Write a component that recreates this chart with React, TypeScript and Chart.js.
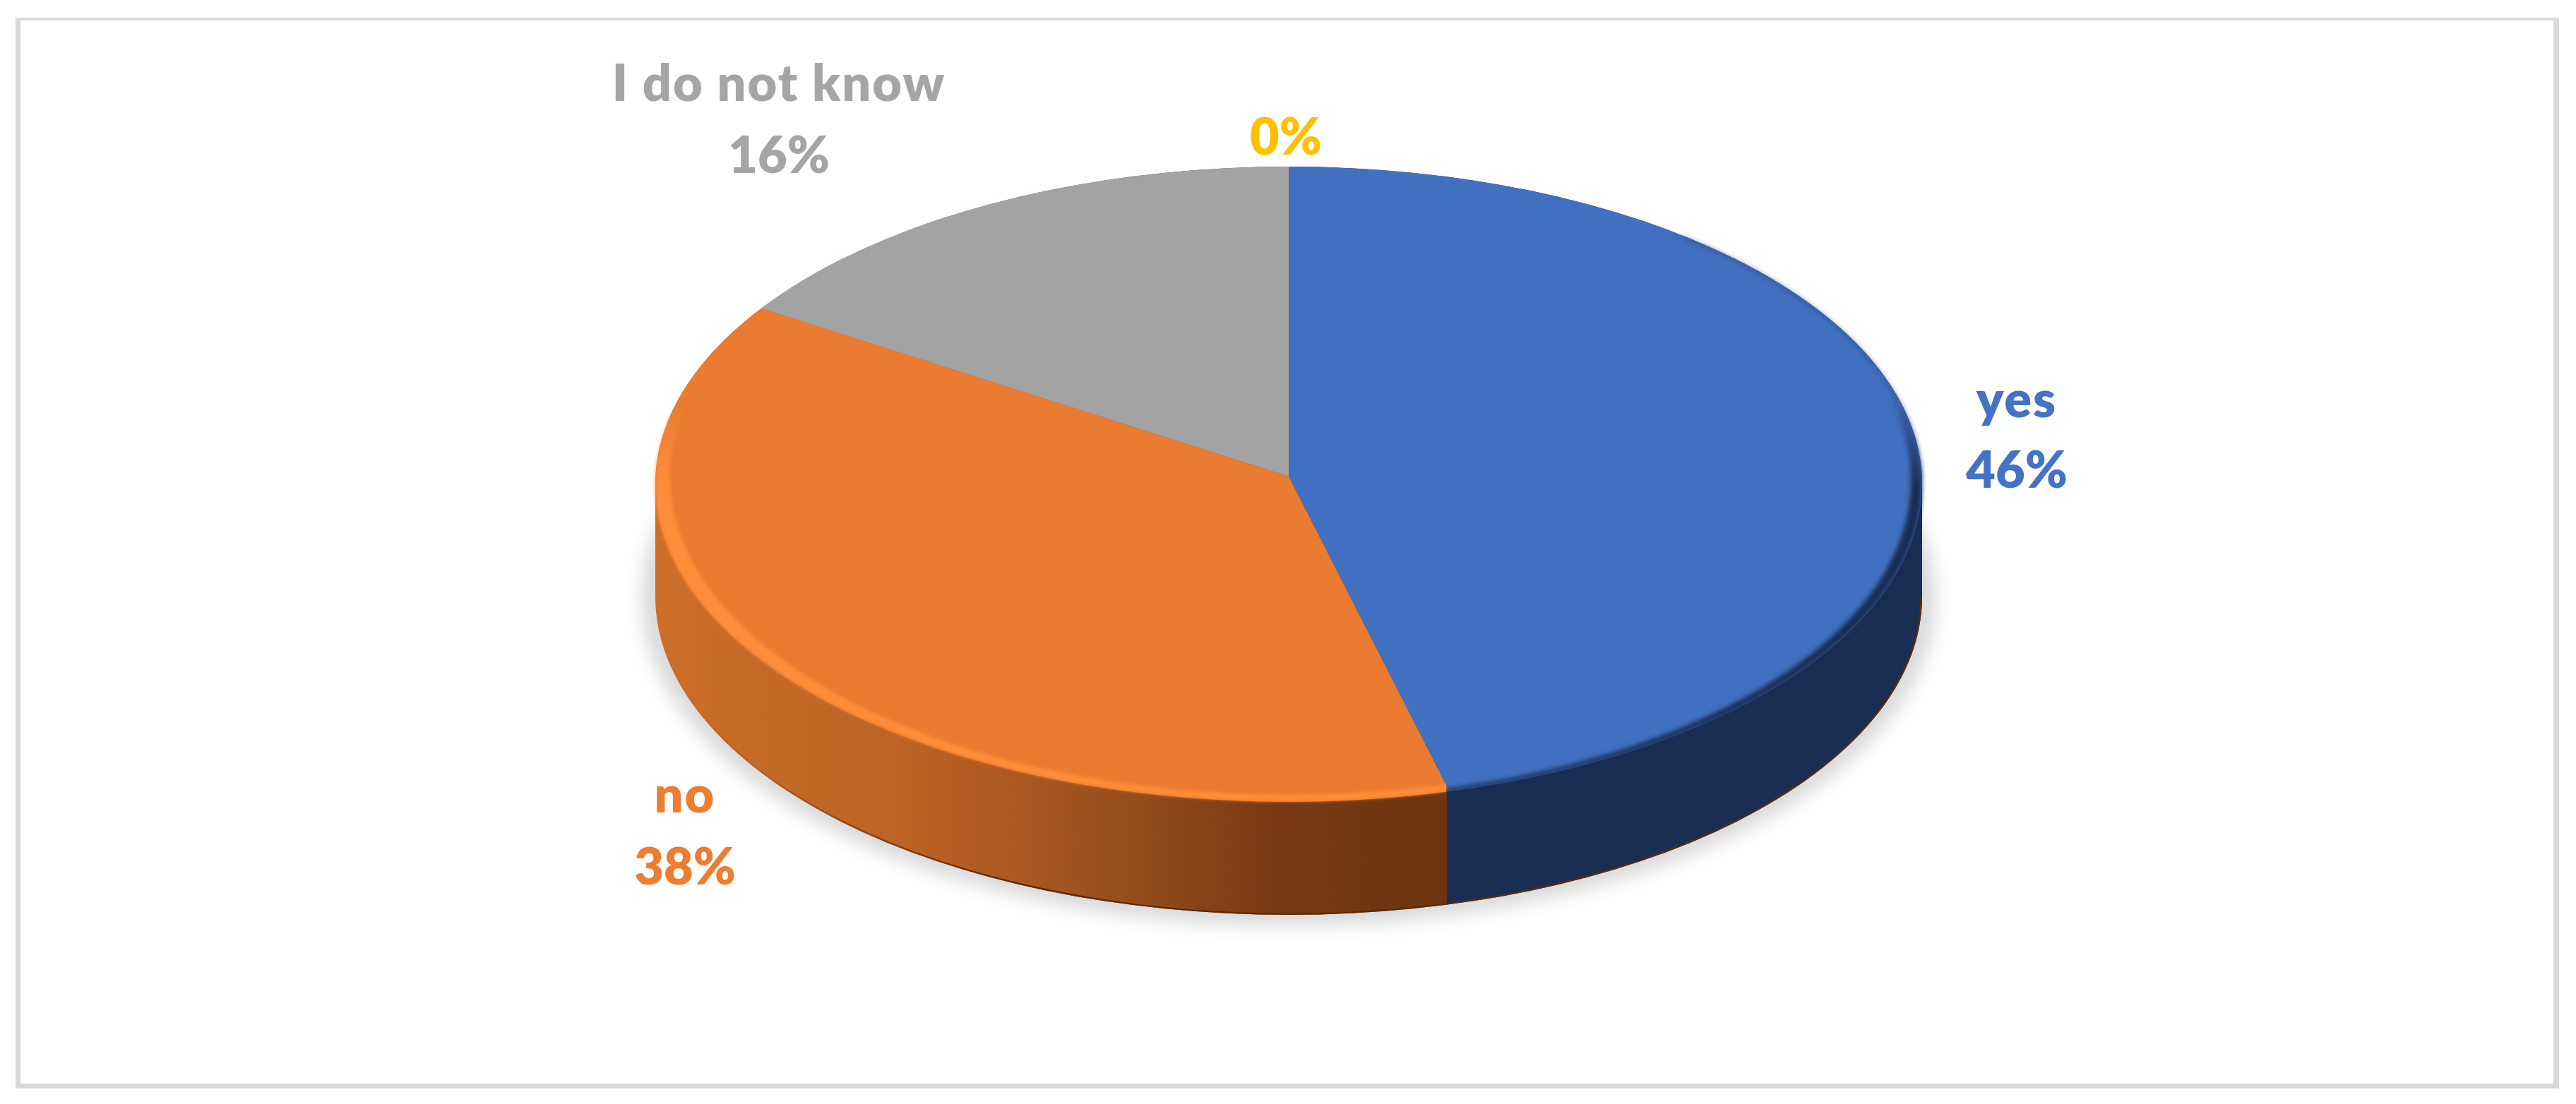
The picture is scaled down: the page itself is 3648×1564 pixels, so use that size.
import React, { useEffect, useRef } from "react";
import { Chart, registerables } from "chart.js";

Chart.register(...registerables);

const categories = ["yes", "no", "I do not know", ""];
const values = [46, 38, 16, 0];
const sliceColors = ["#4170C0", "#EA7B30", "#A3A3A3", "#FFC000"];
const textColors = ["#4472C4", "#ED7D31", "#A5A5A5", "#FFC000"];
const wallStops: [number, string][][] = [
  [[0, "#1A2D52"], [1, "#1A2D52"]],
  [
    [0, "#CC6E28"],
    [0.29, "#BE6425"],
    [0.44, "#AE5A22"],
    [0.6, "#954D1C"],
    [0.78, "#7A3A14"],
    [0.92, "#6E3612"],
    [1, "#6C3411"],
  ],
  [[0, "#A3A3A3"], [1, "#A3A3A3"]],
  [[0, "#FFC000"], [1, "#FFC000"]],
];
// centre x, baseline of the name line, baseline of the percent line
const labelAnchors = [
  { x: 2856, name: 591, pct: 691 },
  { x: 970, name: 1151, pct: 1253 },
  { x: 1103, name: 143, pct: 245 },
  { x: 1821, name: 0, pct: 219 },
];

const W = 3648;
const H = 1564;
const FACE = { cx: 1825, cy: 686, rx: 897, ry: 450 };
const APEX = { x: 1825, y: 675, rx: 920, ry: 463 };
const FLOOR = { cy: 845, ry: 451 };

const wallPath = (ctx: CanvasRenderingContext2D) => {
  const { cx, cy, rx, ry } = FACE;
  ctx.beginPath();
  ctx.ellipse(cx, cy, rx, ry, 0, Math.PI, 0);
  ctx.lineTo(cx + rx, FLOOR.cy);
  ctx.ellipse(cx, FLOOR.cy, rx, FLOOR.ry, 0, 0, Math.PI);
  ctx.closePath();
};

const pie3d = {
  id: "pie3d",
  beforeDraw(chart: any) {
    const ctx = chart.ctx as CanvasRenderingContext2D;
    ctx.save();
    ctx.fillStyle = "#FFFFFF";
    ctx.fillRect(0, 0, W, H);
    ctx.fillStyle = "#D9D9D9";
    ctx.fillRect(22, 25, 3602, 4);
    ctx.fillRect(22, 1535, 3602, 7);
    ctx.fillRect(22, 25, 7, 1517);
    ctx.fillRect(3616, 25, 8, 1517);
    ctx.restore();
  },
  beforeDatasetsDraw(chart: any) {
    const ctx = chart.ctx as CanvasRenderingContext2D;
    const arcs = chart.getDatasetMeta(0).data;
    const { cx, cy, rx, ry } = FACE;

    // soft ground shadow
    ctx.save();
    ctx.filter = "blur(12px)";
    ctx.fillStyle = "#DADADA";
    ctx.beginPath();
    ctx.ellipse(cx, FLOOR.cy + 2, rx + 20, FLOOR.ry + 14, 0, 0, Math.PI * 2);
    ctx.fill();
    ctx.restore();

    // extruded wall, one piece for each slice facing the viewer
    arcs.forEach((arc: any, i: number) => {
      const a0 = Math.max(arc.startAngle, 0);
      const a1 = Math.min(arc.endAngle, Math.PI);
      if (a1 <= a0) return;
      const xRight = cx + rx * Math.cos(a0);
      const xLeft = cx + rx * Math.cos(a1);
      ctx.save();
      wallPath(ctx);
      ctx.clip();
      const g = ctx.createLinearGradient(xLeft, 0, xRight, 0);
      wallStops[i].forEach(([f, c]) => g.addColorStop(f, c));
      ctx.fillStyle = g;
      ctx.fillRect(xLeft, 0, xRight - xLeft + 1, H);

      // darker lower lip of the orange wall
      if (i === 1) {
        const lip = ctx.createLinearGradient(xLeft + 40, 0, xLeft + 500, 0);
        lip.addColorStop(0, "rgba(90,42,10,0)");
        lip.addColorStop(1, "rgba(90,42,10,1)");
        ctx.strokeStyle = lip;
        ctx.lineWidth = 5;
        ctx.beginPath();
        ctx.ellipse(cx, FLOOR.cy, rx, FLOOR.ry, 0, 0, Math.PI);
        ctx.stroke();
      }
      ctx.restore();
    });

    // the slices themselves, tilted into the top face
    const first = arcs[0];
    ctx.save();
    ctx.beginPath();
    ctx.ellipse(cx, cy, rx, ry, 0, 0, Math.PI * 2);
    ctx.clip();
    ctx.translate(APEX.x, APEX.y);
    ctx.scale(APEX.rx / first.outerRadius, APEX.ry / first.outerRadius);
    ctx.translate(-first.x, -first.y);
  },
  afterDatasetsDraw(chart: any) {
    const ctx = chart.ctx as CanvasRenderingContext2D;
    ctx.restore();
    const arcs = chart.getDatasetMeta(0).data;
    const { cx, cy, rx, ry } = FACE;
    const splitX = cx + rx * Math.cos(arcs[0].endAngle);

    const fade = (c0: string, c1: string) => {
      const g = ctx.createLinearGradient(0, 560, 0, 690);
      g.addColorStop(0, c0);
      g.addColorStop(1, c1);
      return g;
    };
    const ring = (innerRx: number, outerDy: number, innerDy: number) => {
      ctx.beginPath();
      ctx.ellipse(cx, cy + outerDy, rx, ry, 0, 0, Math.PI * 2);
      ctx.ellipse(cx, cy + innerDy, innerRx, ry, 0, 0, Math.PI * 2);
      ctx.fill("evenodd");
    };

    // blue: dark soft bevel along the right and front rim
    ctx.save();
    ctx.beginPath();
    ctx.rect(splitX, 0, W - splitX, FLOOR.cy + 300);
    ctx.clip();
    ctx.filter = "blur(3px)";
    ctx.fillStyle = fade("rgba(26,45,82,0)", "rgba(26,45,82,1)");
    ring(881, 1, -4);
    ctx.strokeStyle = "rgba(40,66,115,0.7)";
    ctx.lineWidth = 3;
    ctx.beginPath();
    ctx.ellipse(cx, cy, rx - 2, ry - 2, 0, -0.9, -0.02);
    ctx.stroke();
    ctx.restore();

    // orange: bright bevel band along the left and front rim
    ctx.save();
    ctx.beginPath();
    ctx.rect(0, 0, splitX, H);
    ctx.clip();
    ctx.filter = "blur(2.5px)";
    ctx.fillStyle = fade("rgba(255,142,58,0)", "rgba(255,142,58,1)");
    ring(876, -1, -10);
    ctx.restore();
  },
  afterDraw(chart: any) {
    const ctx = chart.ctx as CanvasRenderingContext2D;
    const total = values.reduce((s, v) => s + v, 0);
    ctx.save();
    ctx.font = "800 72px Lato";
    ctx.textAlign = "center";
    ctx.textBaseline = "alphabetic";
    categories.forEach((name, i) => {
      const a = labelAnchors[i];
      ctx.fillStyle = textColors[i];
      if (name) {
        (ctx as any).letterSpacing = "2px";
        ctx.fillText(name, a.x, a.name);
      }
      (ctx as any).letterSpacing = "0px";
      ctx.fillText(`${Math.round((values[i] / total) * 100)}%`, a.x, a.pct);
    });
    ctx.restore();
  },
};

export default function App() {
  const ref = useRef<HTMLCanvasElement>(null);
  useEffect(() => {
    if (!ref.current) return;
    const chart = new Chart(ref.current, {
      type: "pie",
      data: {
        labels: categories,
        datasets: [
          {
            data: values,
            backgroundColor: sliceColors,
            borderWidth: 0,
          },
        ],
      },
      options: {
        responsive: false,
        animation: false,
        devicePixelRatio: 1,
        plugins: { legend: { display: false }, tooltip: { enabled: false } },
      },
      plugins: [pie3d],
    });
    return () => chart.destroy();
  }, []);
  return (
    <div style={{ position: "absolute", left: 0, top: 0, width: W, height: H, background: "#fff" }}>
      <canvas ref={ref} width={W} height={H} style={{ display: "block" }} />
    </div>
  );
}
